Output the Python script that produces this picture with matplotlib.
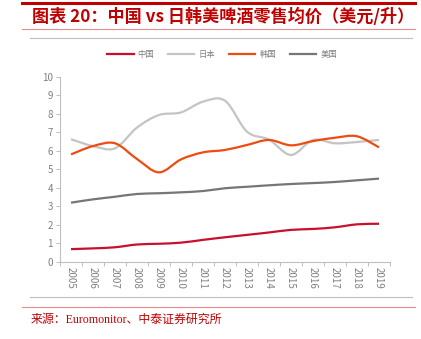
import numpy as np
import matplotlib
matplotlib.use('Agg')
import matplotlib.pyplot as plt
from matplotlib.path import Path
from matplotlib.patches import PathPatch
from matplotlib.lines import Line2D

plt.rcParams['font.family'] = ['Noto Sans CJK SC', 'DejaVu Sans']

years = ['2005', '2006', '2007', '2008', '2009', '2010', '2011', '2012',
         '2013', '2014', '2015', '2016', '2017', '2018', '2019']
china = [0.68, 0.72, 0.78, 0.93, 0.97, 1.03, 1.18, 1.32, 1.45, 1.58, 1.72, 1.77, 1.86, 2.02, 2.05]
japan = [6.62, 6.25, 6.13, 7.25, 7.93, 8.07, 8.65, 8.70, 7.03, 6.60, 5.77, 6.58, 6.40, 6.47, 6.58]
korea = [5.80, 6.25, 6.40, 5.55, 4.83, 5.53, 5.91, 6.04, 6.31, 6.58, 6.29, 6.52, 6.70, 6.78, 6.18]
usa = [3.19, 3.37, 3.51, 3.66, 3.70, 3.75, 3.82, 3.97, 4.05, 4.13, 4.20, 4.25, 4.31, 4.40, 4.49]

series = [('中国', china, '#C8102E'),
          ('日本', japan, '#C4C4C4'),
          ('韩国', korea, '#EE4B10'),
          ('美国', usa, '#767676')]

RED = '#C00000'
GREY_TXT = '#7F7F7F'


def smooth_path(xs, ys):
    """Excel-style smoothed line as a bezier path."""
    pts = np.column_stack([xs, ys]).astype(float)
    n = len(pts)
    verts = [pts[0]]
    codes = [Path.MOVETO]
    for i in range(n - 1):
        p0 = pts[max(i - 1, 0)]
        p1 = pts[i]
        p2 = pts[i + 1]
        p3 = pts[min(i + 2, n - 1)]
        c1 = p1 + (p2 - p0) / 6.0
        c2 = p2 - (p3 - p1) / 6.0
        verts += [c1, c2, p2]
        codes += [Path.CURVE4] * 3
    return Path(verts, codes)


fig = plt.figure(figsize=(4.21, 3.39), dpi=100)
fig.patch.set_facecolor('white')

# decorative header / footer rules
fig.add_artist(Line2D([22 / 421, 415 / 421], [1 - 3.2 / 339] * 2, color=RED, lw=2.2))
fig.add_artist(Line2D([22 / 421, 415 / 421], [1 - 29 / 339] * 2, color='#E88A8A', lw=0.8))
fig.add_artist(Line2D([30 / 421, 412 / 421], [1 - 38 / 339] * 2, color='#BFBFBF', lw=0.8))
fig.add_artist(Line2D([30 / 421, 412 / 421], [1 - 297 / 339] * 2, color='#BFBFBF', lw=0.8))
fig.add_artist(Line2D([22 / 421, 415 / 421], [1 - 307 / 339] * 2, color='#E88A8A', lw=0.8))

fig.text(32 / 421, 1 - 16.5 / 339, '图表 20：中国 vs 日韩美啤酒零售均价（美元/升）',
         color=RED, fontsize=12.3, fontweight='bold', fontstyle='italic',
         ha='left', va='center')
fig.text(31 / 421, 1 - 319.5 / 339, '来源：Euromonitor、中泰证券研究所',
         color=RED, fontsize=8.6, ha='left', va='center',
         family=['Liberation Serif', 'Noto Sans CJK SC'])

ax = fig.add_axes([60 / 421, 1 - 261.7 / 339, 330 / 421, 185 / 339])
x = np.arange(len(years))
for name, vals, col in series:
    ax.add_patch(PathPatch(smooth_path(x, vals), fill=False, edgecolor=col,
                           lw=1.6, capstyle='butt', joinstyle='round'))

ax.set_xlim(-0.5, len(years) - 0.5)
ax.set_ylim(0, 10)
ax.set_yticks(range(0, 11))
ax.set_xticks(np.arange(-0.5, len(years)), minor=False)
ax.set_xticklabels([])
ax.set_xticks(x, minor=True)
ax.set_xticklabels(years, minor=True, rotation=-90, fontsize=7, color=GREY_TXT)
ax.tick_params(axis='x', which='major', length=3, width=0.7, color='#BFBFBF')
ax.tick_params(axis='x', which='minor', length=0, pad=4)
ax.tick_params(axis='y', length=3, width=0.7, color='#BFBFBF', labelsize=7,
               labelcolor=GREY_TXT, pad=2)
for s in ['top', 'right']:
    ax.spines[s].set_visible(False)
for s in ['left', 'bottom']:
    ax.spines[s].set_color('#BFBFBF')
    ax.spines[s].set_linewidth(0.8)

handles = [Line2D([], [], color=col, lw=1.6) for _, _, col in series]
fig.legend(handles, [s[0] for s in series], loc='center',
           bbox_to_anchor=(222 / 421, 1 - 54 / 339), ncol=4, frameon=False,
           fontsize=6, handlelength=3.2, handletextpad=0.5, columnspacing=1.6,
           labelcolor=GREY_TXT)

fig.savefig('out.png', dpi=100, facecolor='white')
